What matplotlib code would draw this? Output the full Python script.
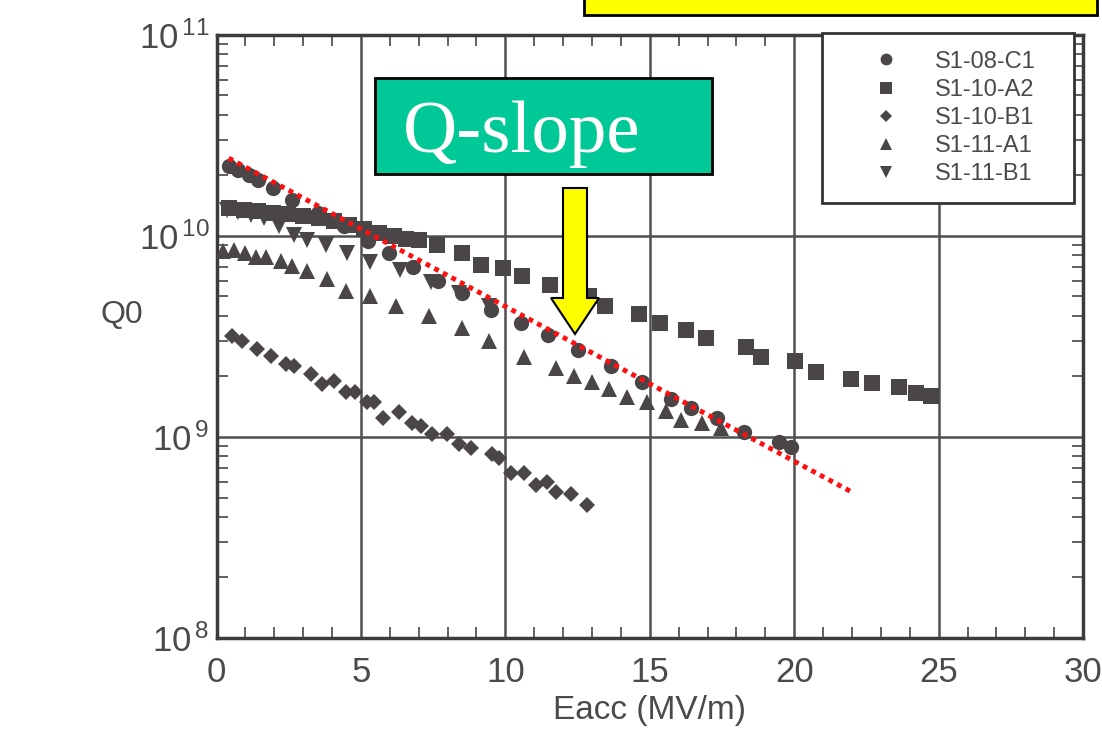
import matplotlib.pyplot as plt
from matplotlib.patches import Rectangle, Polygon
from matplotlib.ticker import FixedLocator, FixedFormatter, LogLocator, MultipleLocator, NullFormatter

plt.rcParams['font.family'] = ['Liberation Sans', 'DejaVu Sans']
plt.rcParams['mathtext.default'] = 'regular'

# values: Eacc (MV/m) vs Q0
c1_x = [0.42, 0.76, 1.11, 1.45, 1.97, 2.6, 3.5, 4.4, 5.26, 5.96, 6.79, 7.66, 8.49, 9.49,
        10.53, 11.47, 12.5, 13.65, 14.72, 15.73, 16.42, 17.32, 18.25, 19.47, 19.88]
c1_q = [2.23e10, 2.13e10, 2.01e10, 1.9e10, 1.73e10, 1.51e10, 1.3e10, 1.12e10, 9.4e9, 8.2e9,
        7.0e9, 6.0e9, 5.2e9, 4.3e9, 3.7e9, 3.2e9, 2.7e9, 2.25e9, 1.87e9, 1.54e9, 1.4e9,
        1.25e9, 1.06e9, 9.4e8, 8.9e8]

a2_x = [0.42, 0.94, 1.45, 1.97, 2.49, 3.01, 3.53, 4.05, 4.57, 5.09, 5.61, 6.13, 6.55, 7.0,
        7.62, 8.49, 9.14, 9.91, 10.56, 11.53, 12.43, 12.89, 13.44, 14.62, 15.34, 16.25,
        16.94, 18.32, 18.84, 20.02, 20.75, 21.96, 22.69, 23.62, 24.21, 24.73]
a2_q = [1.38e10, 1.35e10, 1.33e10, 1.3e10, 1.28e10, 1.26e10, 1.23e10, 1.19e10, 1.13e10,
        1.08e10, 1.03e10, 1.0e10, 9.7e9, 9.5e9, 9.0e9, 8.2e9, 7.2e9, 6.9e9, 6.3e9, 5.7e9,
        5.4e9, 5.0e9, 4.5e9, 4.1e9, 3.7e9, 3.4e9, 3.1e9, 2.8e9, 2.5e9, 2.4e9, 2.1e9,
        1.94e9, 1.85e9, 1.77e9, 1.65e9, 1.6e9]

b1_x = [0.52, 0.87, 1.39, 1.87, 2.42, 2.67, 3.26, 3.64, 4.05, 4.47, 4.81, 5.2, 5.44, 5.78,
        6.3, 6.75, 7.07, 7.45, 7.97, 8.38, 8.8, 9.53, 9.77, 10.18, 10.63, 11.05, 11.43,
        11.74, 12.26, 12.82]
b1_q = [3.18e9, 3.0e9, 2.74e9, 2.53e9, 2.31e9, 2.25e9, 2.05e9, 1.83e9, 1.89e9, 1.67e9,
        1.67e9, 1.49e9, 1.5e9, 1.25e9, 1.33e9, 1.18e9, 1.13e9, 1.03e9, 1.03e9, 9.2e8,
        8.85e8, 8.2e8, 7.9e8, 6.6e8, 6.6e8, 5.8e8, 6.0e8, 5.3e8, 5.2e8, 4.6e8]

a1_x = [0.24, 0.59, 1.0, 1.35, 1.7, 2.22, 2.6, 3.12, 3.81, 4.47, 5.33, 6.23, 7.34, 8.49,
        9.42, 10.63, 11.74, 12.37, 12.99, 13.58, 14.2, 14.89, 15.55, 16.07, 16.8, 17.46]
a1_q = [8.4e9, 8.5e9, 8.2e9, 7.9e9, 7.9e9, 7.5e9, 7.1e9, 6.7e9, 6.1e9, 5.3e9, 5.0e9, 4.5e9,
        4.0e9, 3.5e9, 3.0e9, 2.5e9, 2.2e9, 2.0e9, 1.87e9, 1.73e9, 1.59e9, 1.49e9, 1.34e9,
        1.22e9, 1.18e9, 1.11e9]

b2_x = [0.35, 0.76, 1.18, 1.63, 2.15, 2.67, 3.12, 3.78, 4.5, 5.33, 6.34, 7.41, 8.38, 9.42]
b2_q = [1.35e10, 1.32e10, 1.27e10, 1.23e10, 1.12e10, 1.01e10, 9.5e9, 9.0e9, 8.2e9, 7.4e9,
        6.8e9, 5.9e9, 5.2e9, 4.5e9]

# hand-drawn Q-slope guide line
slope_x = [0.42, 22.06]
slope_q = [2.44e10, 5.26e8]

W, H = 1102, 738


def fpx(x, y):
    return (x / W, 1 - y / H)


fig = plt.figure(figsize=(W / 100, H / 100), dpi=100)
ax = fig.add_axes([0.1965, 0.1355, 0.7863, 0.8171])

mc = '#4a4648'
ax.plot(c1_x, c1_q, 'o', color=mc, ms=11, mew=0, label='S1-08-C1', zorder=3)
ax.plot(a2_x, a2_q, 's', color=mc, ms=11, mew=0, label='S1-10-A2', zorder=3)
ax.plot(b1_x, b1_q, 'D', color=mc, ms=8.5, mew=0, label='S1-10-B1', zorder=3)
ax.plot(a1_x, a1_q, '^', color=mc, ms=12, mew=0, label='S1-11-A1', zorder=3)
ax.plot(b2_x, b2_q, 'v', color=mc, ms=12, mew=0, label='S1-11-B1', zorder=3)

ax.plot(slope_x, slope_q, color='#ff1010', lw=3.5, dashes=(1, 1),
        dash_capstyle='butt', zorder=5)

ax.set_yscale('log')
ax.set_xlim(0, 30)
ax.set_ylim(1e8, 1e11)

tc = '#4a4a4a'
ax.xaxis.set_major_locator(MultipleLocator(5))
ax.xaxis.set_minor_locator(MultipleLocator(1))
ax.yaxis.set_major_locator(FixedLocator([1e8, 1e9, 1e10, 1e11]))
ax.yaxis.set_major_formatter(FixedFormatter([r'$10^{\,8}$', r'$10^{\,9}$',
                                             r'$10^{\,10}$', r'$10^{\,11}$']))
ax.yaxis.set_minor_locator(LogLocator(base=10, subs=range(2, 10)))
ax.yaxis.set_minor_formatter(NullFormatter())
ax.tick_params(which='both', direction='in', top=True, right=True, colors=tc,
               labelsize=25)
ax.tick_params(which='major', length=0)
ax.tick_params(axis='x', which='major', pad=13)
ax.tick_params(axis='y', which='major', pad=5)
ax.tick_params(which='minor', length=8, width=1.3, color='#555555')
ax.grid(True, which='major', color='#505050', lw=1.8)
for s in ax.spines.values():
    s.set_linewidth(2.5)
    s.set_color('#3c3c3c')

ax.set_xlabel('Eacc (MV/m)', fontsize=24, color=tc, labelpad=4)
ax.set_ylabel('Q0', fontsize=23, color=tc, rotation=0)
ax.yaxis.set_label_coords(-0.109, 0.511)

leg = ax.legend(loc='upper left',
                bbox_to_anchor=(822 / W, 1 - 200 / H, (1074 - 822) / W, (200 - 33) / H),
                bbox_transform=fig.transFigure, mode='expand', fontsize=17, frameon=True,
                fancybox=False, framealpha=1, borderaxespad=0, handlelength=3.9,
                handletextpad=0.15, borderpad=0.75, labelspacing=0.26, numpoints=1)
leg.get_frame().set_edgecolor('#333333')
leg.get_frame().set_linewidth(2)
for t in leg.get_texts():
    t.set_color(tc)
for h, size in zip(leg.legend_handles, [8.5, 8.5, 6.5, 9, 9]):
    h.set_markersize(size)
leg.set_zorder(6)

# overlays: yellow banner, green "Q-slope" box and yellow arrow
fig.add_artist(Rectangle(fpx(584, 15), (1097 - 584) / W, 30 / H, facecolor='#ffff00',
                         edgecolor='black', lw=2, transform=fig.transFigure, zorder=10))
fig.add_artist(Rectangle(fpx(375, 174), (712 - 375) / W, (174 - 78) / H,
                         facecolor='#00c896', edgecolor='black', lw=2,
                         transform=fig.transFigure, zorder=10))
fig.text(522 / W, 1 - 134 / H, 'Q-slope', color='white', fontsize=54,
         family='Liberation Serif', ha='center', va='center', zorder=11)
arrow = [fpx(563, 188), fpx(587, 188), fpx(587, 298), fpx(599, 298), fpx(575, 334),
         fpx(551, 298), fpx(563, 298)]
fig.add_artist(Polygon(arrow, closed=True, facecolor='#ffff00', edgecolor='black',
                       lw=1.5, transform=fig.transFigure, zorder=10))

fig.savefig('out.png', dpi=100)
